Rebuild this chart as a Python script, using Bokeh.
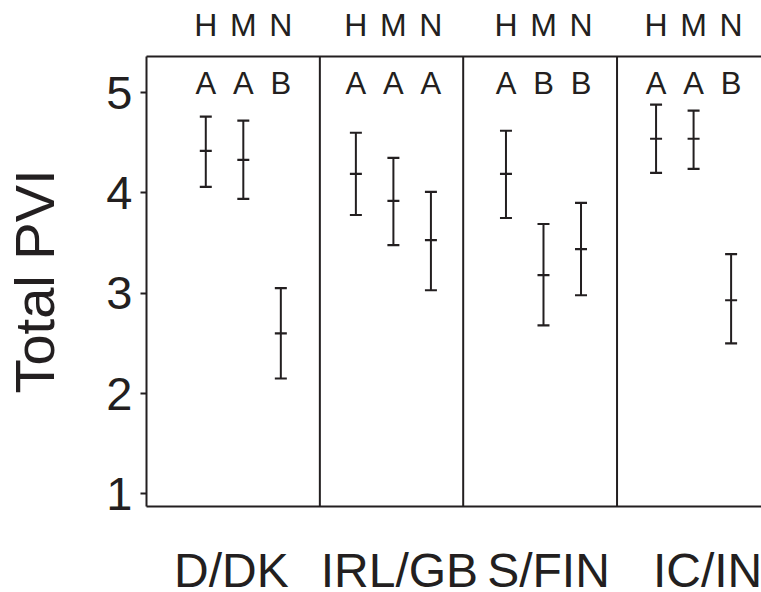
from bokeh.plotting import figure
from bokeh.layouts import column
from bokeh.models import ColumnDataSource, FixedTicker, LinearAxis, Span, Range1d
from bokeh.core.properties import value
from bokeh.embed import file_html
from bokeh.resources import INLINE

# ---- data ----
groups = ["D/DK", "IRL/GB", "S/FIN", "IC/IN"]
levels = ["H", "M", "N"]
mean = [4.42, 4.33, 2.60, 4.19, 3.92, 3.53, 4.19, 3.18, 3.44, 4.54, 4.54, 2.93]
upper = [4.76, 4.72, 3.05, 4.60, 4.35, 4.01, 4.62, 3.69, 3.90, 4.88, 4.82, 3.39]
lower = [4.06, 3.94, 2.15, 3.78, 3.48, 3.03, 3.75, 2.68, 2.98, 4.20, 4.24, 2.50]
letters = ["A", "A", "B", "A", "A", "A", "A", "B", "B", "A", "A", "B"]
y_ticks = [1, 2, 3, 4, 5]

# ---- layout ----
INK = "#231f20"
FONT = "Liberation Sans"
pos = [g * 4 + i for g in range(len(groups)) for i in range(len(levels))]
sep_x = [3.04, 6.86, 10.96]
group_x = [g * 4 + 1 for g in range(len(groups))]
group_dx = [-12, 6, 5, 14]
letter_y = 5.09
group_y = 22
XR = Range1d(-1.58, 14.81)

p = figure(width=761, height=520, output_backend="svg", toolbar_location=None,
           x_range=XR, y_range=Range1d(0.874, 5.36),
           min_border_left=146, min_border_right=0, min_border_top=56,
           min_border_bottom=14, x_axis_location=None, y_axis_location="left")
p.outline_line_color = None
p.grid.visible = False
p.background_fill_color = "white"
p.border_fill_color = "white"

ya = p.yaxis[0]
ya.ticker = FixedTicker(ticks=y_ticks)
ya.major_label_text_font = FONT
ya.major_label_text_font_size = "47px"
ya.major_label_text_color = INK
ya.major_label_standoff = 8
ya.major_tick_in = 0
ya.major_tick_out = 6
ya.major_tick_line_width = 2
ya.major_tick_line_color = INK
ya.minor_tick_line_color = None
ya.axis_line_width = 2
ya.axis_line_color = INK
ya.axis_label = "Total PVI"
ya.axis_label_text_font = FONT
ya.axis_label_text_font_size = "56px"
ya.axis_label_text_font_style = "normal"
ya.axis_label_text_color = INK
ya.axis_label_standoff = 37

top = LinearAxis(ticker=FixedTicker(ticks=pos),
                 major_label_overrides={x: levels[i % 3] for i, x in enumerate(pos)})
top.major_tick_in = 0
top.major_tick_out = 0
top.minor_tick_line_color = None
top.axis_line_width = 2
top.axis_line_color = INK
top.major_label_text_font = FONT
top.major_label_text_font_size = "32px"
top.major_label_text_color = INK
top.major_label_standoff = 14
p.add_layout(top, "above")

bottom = LinearAxis(ticker=FixedTicker(ticks=[]))
bottom.major_tick_in = 0
bottom.major_tick_out = 0
bottom.major_label_standoff = 0
bottom.major_tick_line_color = None
bottom.minor_tick_line_color = None
bottom.major_label_text_font_size = "0px"
bottom.axis_line_width = 2
bottom.axis_line_color = INK
p.add_layout(bottom, "below")

for s in sep_x:
    p.add_layout(Span(location=s, dimension="height", line_width=2, line_color=INK))

src = ColumnDataSource(dict(x=pos, mean=mean, upper=upper, lower=lower, letter=letters,
                            ly=[letter_y] * len(pos)))
p.segment(x0="x", y0="lower", x1="x", y1="upper", source=src, line_width=2, line_color=INK)
for col in ["lower", "upper", "mean"]:
    p.scatter(x="x", y=col, source=src, marker="dash", size=12, line_width=2.2, line_color=INK)

p.text(x="x", y="ly", text="letter", source=src, text_font=value(FONT),
       text_font_size="31px", text_align="center", text_baseline="alphabetic", text_color=INK)

# group names strip below the plot, sharing the x scale
p2 = figure(width=761, height=72, output_backend="svg", toolbar_location=None,
            x_range=XR, y_range=Range1d(0, 72),
            min_border_left=146, min_border_right=0, min_border_top=0,
            min_border_bottom=0, x_axis_location=None, y_axis_location=None)
p2.outline_line_color = None
p2.grid.visible = False
gsrc = ColumnDataSource(dict(x=group_x, y=[group_y] * len(groups), name=groups, dx=group_dx))
p2.text(x="x", y="y", text="name", x_offset="dx", source=gsrc,
        text_font=value(FONT), text_font_size="48px", text_align="center",
        text_baseline="alphabetic", text_color=INK)

layout = column(p, p2, spacing=0)
open("out.html", "w").write(file_html(layout, INLINE))
